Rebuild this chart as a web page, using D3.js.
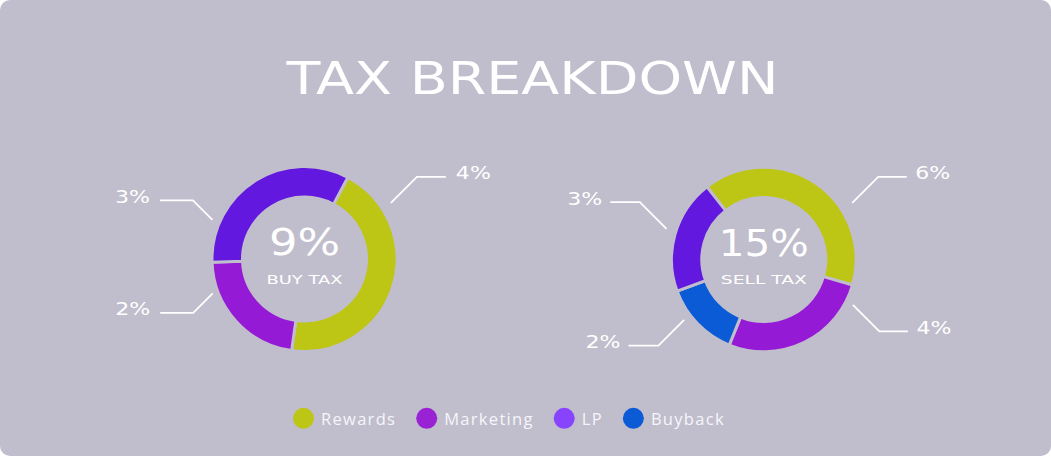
<!DOCTYPE html>
<html>
<head>
<meta charset="utf-8">
<script src="https://cdn.jsdelivr.net/npm/d3@7"></script>
<style>
  html, body { margin: 0; padding: 0; background: #ffffff; }
  svg { display: block; }
</style>
</head>
<body>
<svg id="chart" width="1051" height="456"></svg>
<script>
// ---- data ----
const title = "TAX BREAKDOWN";
const categories = ["Rewards", "Marketing", "LP", "Buyback"];
const buyCategories = ["Rewards", "Marketing", "LP"];
const buyValues = [4, 2, 3];
const sellCategories = ["Rewards", "Marketing", "Buyback", "LP"];
const sellValues = [6, 4, 2, 3];
const buyTotalLabel = "9%";
const buyCaption = "BUY TAX";
const sellTotalLabel = "15%";
const sellCaption = "SELL TAX";

// ---- styles ----
const sliceColor = d3.scaleOrdinal()
  .domain(categories)
  .range(["#bdc615", "#951ad5", "#6218de", "#0c5bd6"]);
const legendColor = d3.scaleOrdinal()
  .domain(categories)
  .range(["#bdc615", "#9822d4", "#8844fd", "#0c5bd6"]);
const bg = "#c0bdcc";
const squareFont = "'DejaVu Sans', sans-serif";
const legendFont = "'Open Sans', sans-serif";

const svg = d3.select("#chart");
const W = 1051, H = 456;

svg.append("rect").attr("x", 0).attr("y", 0).attr("width", W).attr("height", H)
  .attr("rx", 10).attr("ry", 10).attr("fill", bg);

// title
svg.append("text")
  .attr("x", 532.5).attr("y", 93.5)
  .attr("text-anchor", "middle")
  .attr("font-family", squareFont)
  .attr("font-weight", 400)
  .attr("font-size", 45)
  .attr("fill", "#ffffff")
  .attr("textLength", 492)
  .attr("lengthAdjust", "spacingAndGlyphs")
  .text(title);

const deg = Math.PI / 180;

function donut(cfg) {
  const g = svg.append("g").attr("transform", `translate(${cfg.cx},${cfg.cy})`);
  const data = cfg.cats.map((c, i) => ({ cat: c, value: cfg.values[i] }));
  const pie = d3.pie().value(d => d.value).sort(null)
    .startAngle(cfg.start * deg).endAngle(cfg.start * deg + 2 * Math.PI);
  const arc = d3.arc().innerRadius(cfg.inner).outerRadius(cfg.outer);
  g.selectAll("path.slice").data(pie(data)).join("path")
    .attr("class", "slice")
    .attr("d", arc)
    .attr("fill", d => sliceColor(d.data.cat))
    .attr("stroke", bg)
    .attr("stroke-width", 3)
    .attr("stroke-linejoin", "miter");

  // center texts
  g.append("text")
    .attr("x", 0).attr("y", -4)
    .attr("text-anchor", "middle")
    .attr("font-family", squareFont)
    .attr("font-size", 38)
    .attr("fill", "#ffffff")
    .attr("textLength", cfg.totalW)
    .attr("lengthAdjust", "spacingAndGlyphs")
    .text(cfg.total);
  g.append("text")
    .attr("x", 0).attr("y", 24.5)
    .attr("text-anchor", "middle")
    .attr("font-family", squareFont)
    .attr("font-size", 13)
    .attr("fill", "#ffffff")
    .attr("textLength", cfg.capW)
    .attr("lengthAdjust", "spacingAndGlyphs")
    .text(cfg.caption);

  // callouts
  cfg.callouts.forEach((co, i) => {
    const a = co.angle * deg;
    const x0 = Math.sin(a) * co.dist, y0 = -Math.cos(a) * co.dist;
    const sx = Math.sin(a) >= 0 ? 1 : -1;
    const sy = Math.cos(a) >= 0 ? -1 : 1;
    const x1 = x0 + sx * co.diag, y1 = y0 + sy * co.diag;
    const x2 = x1 + sx * co.hor;
    g.append("path")
      .attr("d", `M${x0},${y0}L${x1},${y1}L${x2},${y1}`)
      .attr("fill", "none")
      .attr("stroke", "#ffffff")
      .attr("stroke-width", 1.8);
    g.append("text")
      .attr("x", x2 + sx * co.gap).attr("y", y1 + 2.5)
      .attr("text-anchor", sx > 0 ? "start" : "end")
      .attr("font-family", squareFont)
      .attr("font-size", 18.5)
      .attr("fill", "#ffffff")
      .attr("textLength", 35)
      .attr("lengthAdjust", "spacingAndGlyphs")
      .text(cfg.values[co.idx] + "%");
  });
}

donut({
  cx: 304.5, cy: 259, outer: 92.5, inner: 62,
  start: 28, cats: buyCategories, values: buyValues,
  total: buyTotalLabel, caption: buyCaption, totalW: 71, capW: 76,
  callouts: [
    { idx: 0, angle: 57, dist: 103, diag: 26, hor: 29, gap: 10 },
    { idx: 2, angle: 293, dist: 100, diag: 19.5, hor: 33, gap: 10 },
    { idx: 1, angle: 249.5, dist: 98, diag: 19.5, hor: 33, gap: 10 }
  ]
});

donut({
  cx: 763.8, cy: 259.5, outer: 92.3, inner: 62,
  start: -38, cats: sellCategories, values: sellValues,
  total: sellTotalLabel, caption: sellCaption, totalW: 90, capW: 86,
  callouts: [
    { idx: 0, angle: 57.4, dist: 105, diag: 26, hor: 28.5, gap: 8.5 },
    { idx: 1, angle: 117, dist: 100, diag: 26.5, hor: 28.5, gap: 8.5 },
    { idx: 3, angle: 287.5, dist: 102, diag: 26.7, hor: 29.5, gap: 8 },
    { idx: 2, angle: 232.8, dist: 100, diag: 25.7, hor: 30, gap: 8 }
  ]
});

// legend
const legend = svg.append("g");
let lx = 293;
const ly = 418.3;
categories.forEach(c => {
  legend.append("circle")
    .attr("cx", lx + 10.5).attr("cy", ly).attr("r", 10.5)
    .attr("fill", legendColor(c));
  const t = legend.append("text")
    .attr("x", lx + 28).attr("y", ly)
    .attr("dominant-baseline", "central")
    .attr("font-family", legendFont)
    .attr("font-weight", 500)
    .attr("font-size", 16.5)
    .attr("letter-spacing", 1.3)
    .attr("fill", "#f6f6fa")
    .text(c);
  const w = t.node().getComputedTextLength();
  lx = lx + 28 + w + 20;
});
</script>
</body>
</html>
